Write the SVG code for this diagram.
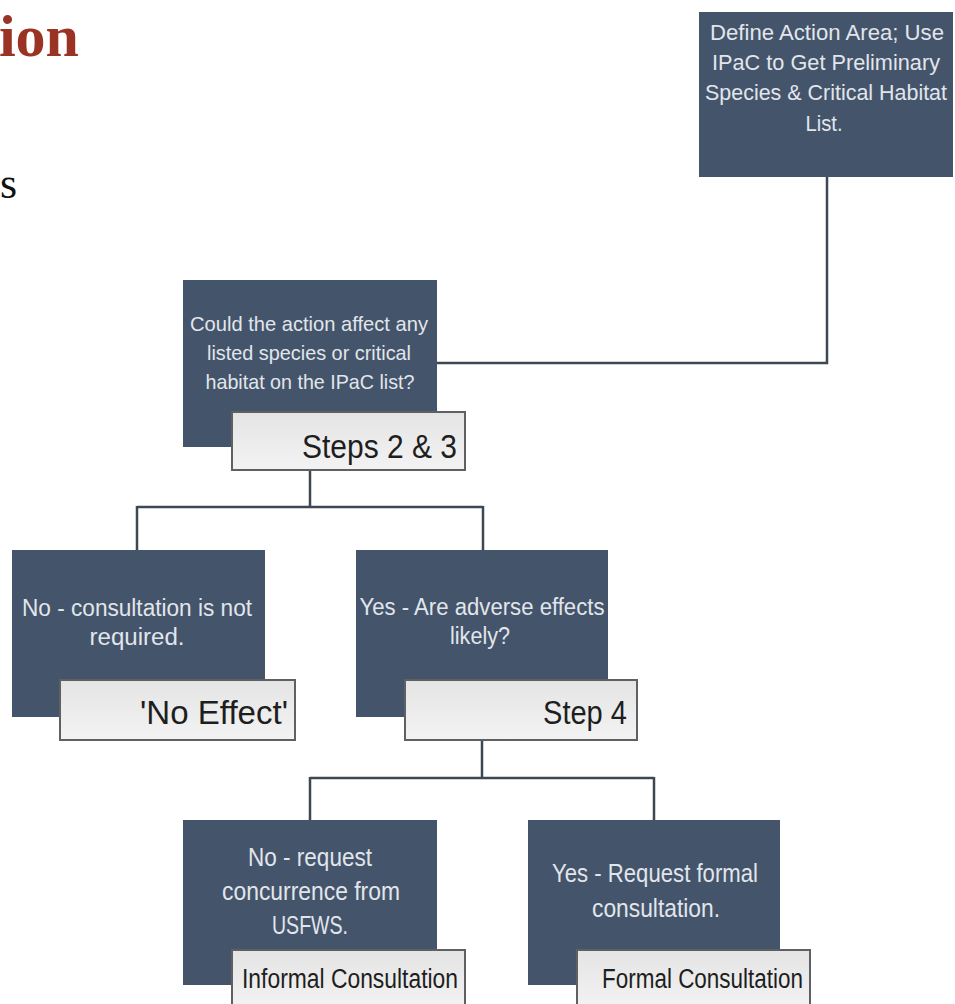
<svg xmlns="http://www.w3.org/2000/svg" width="955" height="1004" viewBox="0 0 955 1004">
<defs>
<linearGradient id="lblGrad" x1="0" y1="0" x2="0" y2="1">
<stop offset="0" stop-color="#e4e4e4"/>
<stop offset="1" stop-color="#f3f3f3"/>
</linearGradient>
<style>
.box{fill:#44546a;}
.lbl{fill:url(#lblGrad);stroke:#5e6064;stroke-width:2;}
.bt{font-family:"Liberation Sans",Arial,sans-serif;fill:#e1e6ec;text-anchor:middle;}
.lt{font-family:"Liberation Sans",Arial,sans-serif;fill:#1e1e1e;}
.conn{fill:none;stroke:#3e4853;stroke-width:2.5;}
</style>
</defs>
<rect width="955" height="1004" fill="#ffffff"/>
<text x="79" y="56" font-family="'Liberation Serif','Times New Roman',serif" font-weight="bold" font-size="60" fill="#9a3324" text-anchor="end">ion</text>
<text x="0" y="198" font-family="'Liberation Serif','Times New Roman',serif" font-size="44" fill="#111111">s</text>
<g id="connectors">
<path class="conn" d="M827,177 V363 H437"/>
<path class="conn" d="M310,470 V507 M137,507 H483 M137,506 V550 M483,506 V550"/>
<path class="conn" d="M482,740 V778 M310,778 H654 M310,777 V820 M654,777 V820"/>
</g>
<g id="node-define">
<rect class="box" x="699" y="12" width="254" height="165"/>
<text class="bt" font-size="22"><tspan x="827" y="40" textLength="234" lengthAdjust="spacingAndGlyphs">Define Action Area; Use</tspan><tspan x="826" y="70" textLength="228" lengthAdjust="spacingAndGlyphs">IPaC to Get Preliminary</tspan><tspan x="826" y="100" textLength="242" lengthAdjust="spacingAndGlyphs">Species &amp; Critical Habitat</tspan><tspan x="824" y="131" textLength="37" lengthAdjust="spacingAndGlyphs">List.</tspan></text>
</g>
<g id="node-could">
<rect class="box" x="183" y="280" width="254" height="167"/>
<text class="bt" font-size="21"><tspan x="309" y="331" textLength="238" lengthAdjust="spacingAndGlyphs">Could the action affect any</tspan><tspan x="309" y="360" textLength="204" lengthAdjust="spacingAndGlyphs">listed species or critical</tspan><tspan x="310" y="389" textLength="209" lengthAdjust="spacingAndGlyphs">habitat on the IPaC list?</tspan></text>
<rect class="lbl" x="232" y="412" width="233" height="58"/>
<text class="lt" x="457" y="458" font-size="33" text-anchor="end" textLength="155" lengthAdjust="spacingAndGlyphs">Steps 2 &amp; 3</text>
</g>
<g id="node-no-effect">
<rect class="box" x="12" y="550" width="253" height="167"/>
<text class="bt" font-size="23"><tspan x="137" y="616" textLength="230" lengthAdjust="spacingAndGlyphs">No - consultation is not</tspan><tspan x="137" y="645" textLength="95" lengthAdjust="spacingAndGlyphs">required.</tspan></text>
<rect class="lbl" x="60" y="680" width="235" height="60"/>
<text class="lt" x="288" y="724" font-size="33" text-anchor="end" textLength="148" lengthAdjust="spacingAndGlyphs">'No Effect'</text>
</g>
<g id="node-adverse">
<rect class="box" x="356" y="550" width="252" height="167"/>
<text class="bt" font-size="23"><tspan x="482" y="615" textLength="245" lengthAdjust="spacingAndGlyphs">Yes - Are adverse effects</tspan><tspan x="480" y="644" textLength="60" lengthAdjust="spacingAndGlyphs">likely?</tspan></text>
<rect class="lbl" x="405" y="680" width="232" height="60"/>
<text class="lt" x="627" y="724" font-size="33" text-anchor="end" textLength="84" lengthAdjust="spacingAndGlyphs">Step 4</text>
</g>
<g id="node-informal">
<rect class="box" x="183" y="820" width="254" height="165"/>
<text class="bt" font-size="25"><tspan x="310" y="866" textLength="124" lengthAdjust="spacingAndGlyphs">No - request</tspan><tspan x="311" y="900" textLength="178" lengthAdjust="spacingAndGlyphs">concurrence from</tspan><tspan x="310" y="934" textLength="76" lengthAdjust="spacingAndGlyphs">USFWS.</tspan></text>
<rect class="lbl" x="232" y="950" width="233" height="60"/>
<text class="lt" x="458" y="988" font-size="27" text-anchor="end" textLength="216" lengthAdjust="spacingAndGlyphs">Informal Consultation</text>
</g>
<g id="node-formal">
<rect class="box" x="528" y="820" width="252" height="165"/>
<text class="bt" font-size="25"><tspan x="655" y="882" textLength="206" lengthAdjust="spacingAndGlyphs">Yes - Request formal</tspan><tspan x="656" y="917" textLength="128" lengthAdjust="spacingAndGlyphs">consultation.</tspan></text>
<rect class="lbl" x="577" y="950" width="233" height="60"/>
<text class="lt" x="803" y="988" font-size="27" text-anchor="end" textLength="201" lengthAdjust="spacingAndGlyphs">Formal Consultation</text>
</g>
</svg>
